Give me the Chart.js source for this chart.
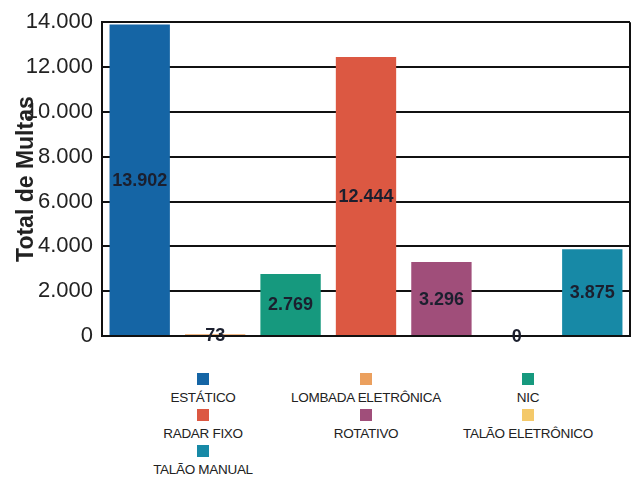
<!DOCTYPE html>
<html>
<head>
<meta charset="utf-8">
<script src="https://cdn.jsdelivr.net/npm/chart.js@4/dist/chart.umd.min.js"></script>
<style>
  html, body { margin: 0; padding: 0; background: #fff; }
  #wrap { position: relative; width: 636px; height: 479px; overflow: hidden; }
  #box { position: absolute; left: 0; top: 0; width: 636px; height: 360px; }
  .li { position: absolute; width: 200px; display: flex; flex-direction: column; align-items: center;
        font-family: "Liberation Sans", Arial, sans-serif; font-size: 13.5px; line-height: 15px; color: #222; }
  .li .sq { width: 12px; height: 12px; }
  .li .tx { margin-top: 5px; white-space: nowrap; letter-spacing: -0.3px; }
</style>
</head>
<body>
<div id="wrap">
  <div id="box"><canvas id="c"></canvas></div>
  <div id="legend"></div>
</div>
<script>
const categories = ["ESTÁTICO", "LOMBADA ELETRÔNICA", "NIC", "RADAR FIXO", "ROTATIVO", "TALÃO ELETRÔNICO", "TALÃO MANUAL"];
const values = [13902, 73, 2769, 12444, 3296, 0, 3875];
const colors = ["#1565a5", "#eba05e", "#16997e", "#dc5842", "#a04e7a", "#f4c96a", "#1789a6"];
const yTicks = [0, 2000, 4000, 6000, 8000, 10000, 12000, 14000];
const yTitle = "Total de Multas";

function fmt(v) {
  return String(Math.round(v)).replace(/\B(?=(\d{3})+(?!\d))/g, ".");
}

const valueLabels = {
  id: "valueLabels",
  afterDatasetsDraw(chart) {
    const ctx = chart.ctx;
    const meta = chart.getDatasetMeta(0);
    ctx.save();
    ctx.font = "bold 18px 'Liberation Sans', Arial, sans-serif";
    ctx.fillStyle = "#1b1f2e";
    ctx.textAlign = "center";
    ctx.textBaseline = "middle";
    meta.data.forEach((el, i) => {
      const y = (el.y + el.base) / 2;
      ctx.fillText(fmt(values[i]), el.x, y + 1);
    });
    ctx.restore();
  }
};

const frameRight = {
  id: "frameRight",
  beforeDatasetsDraw(chart) {
    const a = chart.chartArea;
    const ctx = chart.ctx;
    ctx.save();
    ctx.strokeStyle = "#111";
    ctx.lineWidth = 2;
    ctx.beginPath();
    ctx.moveTo(a.right, a.top);
    ctx.lineTo(a.right, a.bottom);
    ctx.stroke();
    ctx.restore();
  }
};

new Chart(document.getElementById("c"), {
  type: "bar",
  data: {
    labels: categories,
    datasets: [{
      data: values,
      backgroundColor: colors,
      borderWidth: 0,
      barPercentage: 0.8,
      categoryPercentage: 1.0
    }]
  },
  options: {
    responsive: true,
    maintainAspectRatio: false,
    animation: false,
    layout: { padding: { top: 22, right: 6, left: 0, bottom: 0 } },
    plugins: { legend: { display: false }, tooltip: { enabled: false } },
    scales: {
      x: {
        ticks: { display: false },
        grid: { display: false, drawTicks: false },
        border: { display: true, color: "#111", width: 2 },
        afterFit(s) { s.height = 24; }
      },
      y: {
        min: 0,
        max: 14000,
        afterBuildTicks(s) { s.ticks = yTicks.map(v => ({ value: v })); },
        ticks: {
          padding: 9,
          color: "#222",
          font: { family: "'Liberation Sans', Arial, sans-serif", size: 22 },
          callback: (v) => fmt(v)
        },
        grid: { color: "#111", lineWidth: 2, drawTicks: false },
        border: { display: true, color: "#111", width: 2 },
        title: {
          display: true,
          text: yTitle,
          color: "#222",
          font: { family: "'Liberation Sans', Arial, sans-serif", size: 23, weight: "bold" },
          padding: { top: 13, bottom: 0 }
        },
        afterFit(s) { s.width = 102; }
      }
    }
  },
  plugins: [valueLabels, frameRight]
});

// HTML legend built from the arrays
const colCenters = [203, 366, 528];
const rowTops = [373, 409, 445];
const leg = document.getElementById("legend");
categories.forEach((name, i) => {
  const d = document.createElement("div");
  d.className = "li";
  d.style.left = (colCenters[i % 3] - 100) + "px";
  d.style.top = rowTops[Math.floor(i / 3)] + "px";
  const sq = document.createElement("div");
  sq.className = "sq";
  sq.style.background = colors[i];
  const tx = document.createElement("div");
  tx.className = "tx";
  tx.textContent = name;
  d.appendChild(sq);
  d.appendChild(tx);
  leg.appendChild(d);
});
</script>
</body>
</html>
